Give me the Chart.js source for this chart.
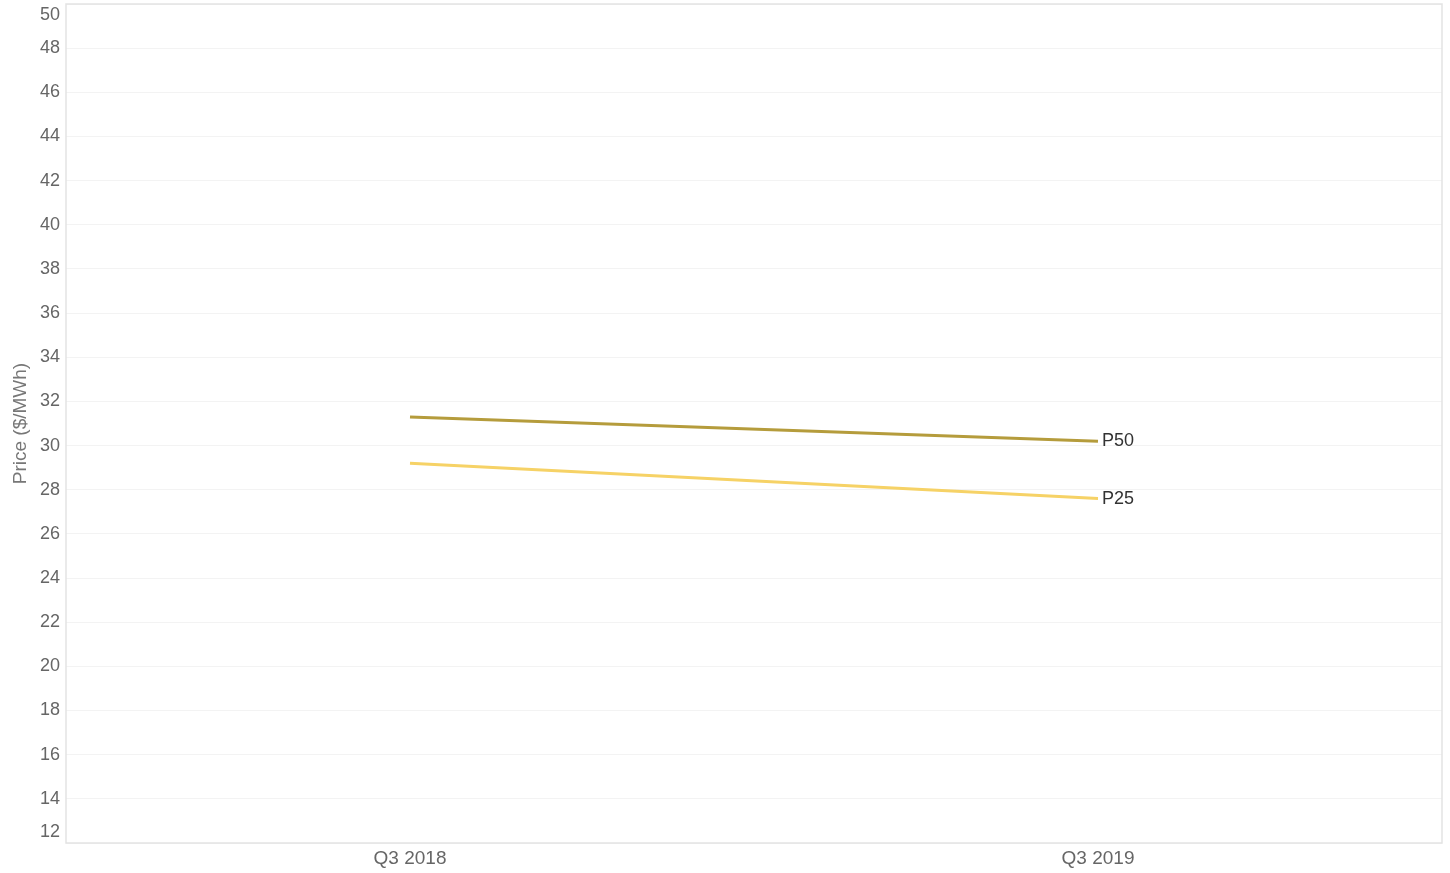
<!DOCTYPE html>
<html>
<head>
<meta charset="utf-8">
<script src="https://cdn.jsdelivr.net/npm/chart.js@4/dist/chart.umd.min.js"></script>
<style>
  html, body { margin: 0; padding: 0; background: #ffffff; }
  #wrap { width: 1450px; height: 873px; }
</style>
</head>
<body>
<div id="wrap"><canvas id="c" width="1450" height="873"></canvas></div>
<script>
const categories = ["Q3 2018", "Q3 2019"];
const seriesNames = ["P50", "P25"];
const p50Values = [31.3, 30.2];
const p25Values = [29.2, 27.6];
const yMin = 12;
const yMax = 50;
const yStep = 2;
const yTitle = "Price ($/MWh)";

const FONT = "Arial, 'Liberation Sans', sans-serif";

const frameAndLabels = {
  id: 'frameAndLabels',
  beforeDatasetsDraw(chart) {
    const { ctx, chartArea: a } = chart;
    ctx.save();
    ctx.strokeStyle = '#e3e3e3';
    ctx.lineWidth = 1.5;
    ctx.strokeRect(a.left, a.top, a.right - a.left, a.bottom - a.top);
    ctx.restore();
  },
  afterDatasetsDraw(chart) {
    const { ctx } = chart;
    ctx.save();
    ctx.font = '18px ' + FONT;
    ctx.fillStyle = '#333333';
    ctx.textAlign = 'left';
    ctx.textBaseline = 'middle';
    chart.data.datasets.forEach((ds, i) => {
      const meta = chart.getDatasetMeta(i);
      const pt = meta.data[meta.data.length - 1];
      if (pt) ctx.fillText(ds.label, pt.x + 4, pt.y);
    });
    ctx.restore();
  }
};

new Chart(document.getElementById('c'), {
  type: 'line',
  data: {
    labels: categories,
    datasets: [
      {
        label: seriesNames[0],
        data: p50Values,
        borderColor: '#b59c3c',
        borderWidth: 3,
        pointRadius: 0,
        tension: 0
      },
      {
        label: seriesNames[1],
        data: p25Values,
        borderColor: '#f6d266',
        borderWidth: 3,
        pointRadius: 0,
        tension: 0
      }
    ]
  },
  options: {
    responsive: false,
    animation: false,
    layout: { padding: { left: 9, right: 8, top: 4, bottom: 0 } },
    plugins: {
      legend: { display: false },
      tooltip: { enabled: false }
    },
    scales: {
      x: {
        offset: true,
        grid: { display: false, drawTicks: false },
        border: { display: false },
        ticks: {
          color: '#666666',
          font: { family: FONT, size: 19 },
          padding: 4,
          maxRotation: 0
        },
        afterFit(scale) { scale.height = 30; }
      },
      y: {
        min: yMin,
        max: yMax,
        grid: { color: '#f3f3f3', drawTicks: false, lineWidth: 1 },
        border: { display: false },
        ticks: {
          stepSize: yStep,
          autoSkip: false,
          color: '#666666',
          font: { family: FONT, size: 18 },
          padding: 6,
          callback(v) {
            if (v === yMax) return ['', String(v)];
            if (v === yMin) return [String(v), ''];
            return String(v);
          }
        },
        title: {
          display: true,
          text: yTitle,
          color: '#777777',
          font: { family: FONT, size: 19 },
          padding: { top: 0, bottom: 0 }
        },
        afterFit(scale) {
          scale.width = 57;
          scale.paddingTop = 0;
          scale.paddingBottom = 0;
        }
      }
    }
  },
  plugins: [frameAndLabels]
});
</script>
</body>
</html>
